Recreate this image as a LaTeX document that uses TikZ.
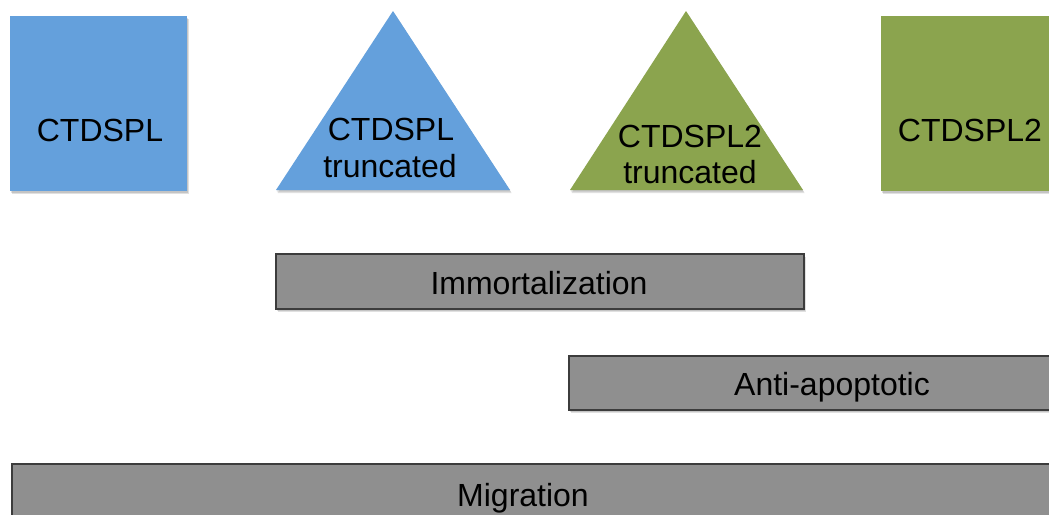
\documentclass[tikz,border=0pt]{standalone}
\usepackage{fontspec}
\setmainfont{Liberation Sans}
\definecolor{cblue}{HTML}{64A0DC}
\definecolor{cgreen}{HTML}{8BA44E}
\definecolor{cbar}{HTML}{8F8F8F}
\definecolor{cbarline}{HTML}{3C3C3C}
\tikzset{
  lbl/.style={anchor=base, inner sep=0pt, font=\fontsize{24pt}{28pt}\selectfont, text=black},
  shapeshadow/.style={fill=black, opacity=0.12},
  bluefill/.style={fill=cblue},
  greenfill/.style={fill=cgreen},
  barbox/.style={fill=cbar, draw=cbarline, line width=1.1pt},
}
\begin{document}
\begin{tikzpicture}[x=0.75pt, y=-0.75pt]
\useasboundingbox (0,0) rectangle (1049,514);
\clip (0,0) rectangle (1049,514);
\fill[white] (0,0) rectangle (1049,514);
% shadows
\foreach \d in {1.5,3} {
  \fill[shapeshadow] (10+\d*0.5,16+\d) rectangle (187+\d*0.5,191+\d);
  \fill[shapeshadow] (393+\d*0.5,11+\d) -- (510+\d*0.5,190+\d) -- (276+\d*0.5,190+\d) -- cycle;
  \fill[shapeshadow] (686+\d*0.5,11+\d) -- (803+\d*0.5,190+\d) -- (570+\d*0.5,190+\d) -- cycle;
  \fill[shapeshadow] (881+\d*0.5,16+\d) rectangle (1070,191+\d);
  \fill[shapeshadow] (276+\d*0.5,254+\d) rectangle (804+\d*0.5,309+\d);
  \fill[shapeshadow] (569+\d*0.5,356+\d) rectangle (1100,410+\d);
}
% shapes
\fill[bluefill] (10,16) rectangle (187,191);
\fill[bluefill] (393,11) -- (510,190) -- (276,190) -- cycle;
\fill[greenfill] (686,11) -- (803,190) -- (570,190) -- cycle;
\fill[greenfill] (881,16) rectangle (1070,191);
\draw[barbox] (276,254) rectangle (804,309);
\draw[barbox] (569,356) rectangle (1100,410);
\draw[barbox] (12,464) rectangle (1100,560);
% labels
\node[lbl] (sq1) at (100,141) {CTDSPL};
\node[lbl] (t1a) at (391,140) {CTDSPL};
\node[lbl] (t1b) at (390,177) {truncated};
\node[lbl] (t2a) at (690,147) {CTDSPL2};
\node[lbl] (t2b) at (690,183) {truncated};
\node[lbl] (sq2) at (970,141) {CTDSPL2};
\node[lbl] (imm) at (539,294) {Immortalization};
\node[lbl] (anti) at (832,395) {Anti-apoptotic};
\node[lbl] (mig) at (523,506) {Migration};
\end{tikzpicture}
\end{document}
